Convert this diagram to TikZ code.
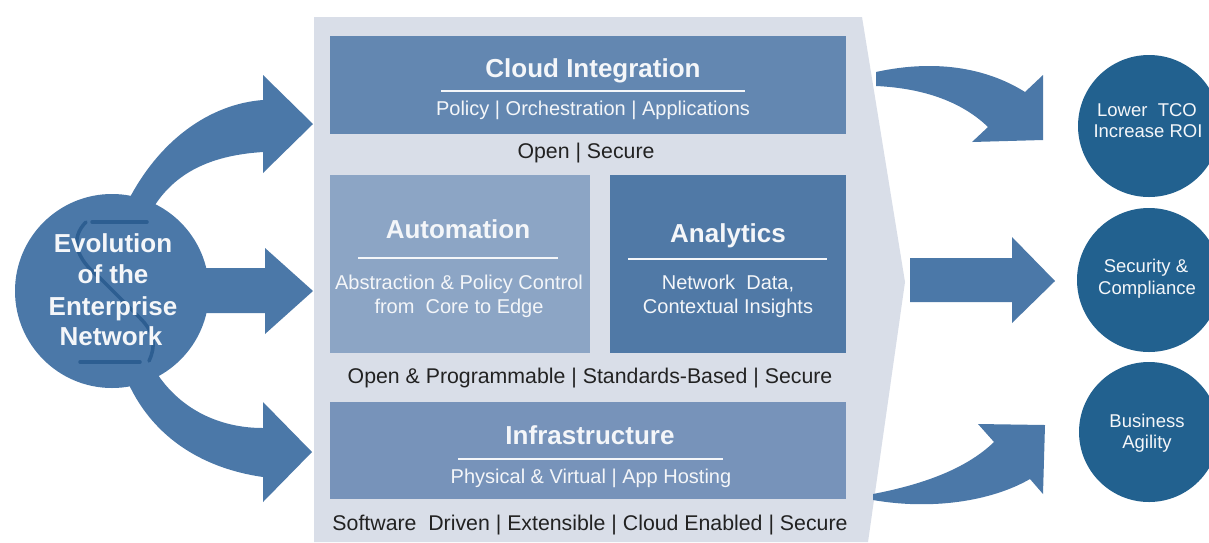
\documentclass[tikz,border=0pt]{standalone}
\usepackage{fontspec}
\setmainfont{Liberation Sans}
\definecolor{arrowc}{HTML}{4B78A8}
\definecolor{darkc}{HTML}{22618F}
\definecolor{panelc}{HTML}{D9DEE8}
\definecolor{cloudc}{HTML}{6387B1}
\definecolor{autoc}{HTML}{8CA5C5}
\definecolor{analc}{HTML}{5079A6}
\definecolor{infrac}{HTML}{7793BA}
\definecolor{sdeco}{HTML}{2D5E91}
\definecolor{txtc}{HTML}{222222}
\definecolor{boxtxt}{HTML}{F4F6F9}
\begin{document}
\begin{tikzpicture}[x=1pt,y=-1pt,
  title/.style={anchor=base, inner sep=0pt, text=boxtxt, font=\fontsize{26}{30}\selectfont\bfseries},
  sub/.style={anchor=base, inner sep=0pt, text=boxtxt, font=\fontsize{20}{24}\selectfont},
  lbl/.style={anchor=base, inner sep=0pt, text=txtc, font=\fontsize{21.3}{25}\selectfont},
  evotxt/.style={anchor=base, inner sep=0pt, text=boxtxt, font=\fontsize{26}{30}\selectfont\bfseries},
  res/.style={anchor=base, inner sep=0pt, text=boxtxt, font=\fontsize{18.5}{22}\selectfont},
  uline/.style={draw=boxtxt, line width=2.6pt},
  arr/.style={fill=arrowc},
  deco/.style={draw=sdeco, line width=3.5pt, line cap=round},
]
\useasboundingbox (0,0) rectangle (1209,542);
\fill[white] (0,0) rectangle (1209,542);

% panel
\fill[panelc] (314,17) -- (862,17) -- (905,282) -- (868,542) -- (314,542) -- cycle;

% boxes
\fill[cloudc] (330,36) rectangle (846,134);
\fill[autoc] (330,175) rectangle (590,353);
\fill[analc] (610,175) rectangle (846,353);
\fill[infrac] (330,402) rectangle (846,499);

% left arrows
\fill[arr] (126,205) .. controls (158,140) and (210,104) .. (263,100) -- (263,75) -- (313,124) -- (263,173) -- (263,152) .. controls (215,155) and (178,170) .. (155,205) -- cycle;
\fill[arr] (190,268) -- (265,268) -- (265,248) -- (313,291) -- (265,334) -- (265,313) -- (190,313) -- cycle;
\fill[arr] (158,375) .. controls (182,410) and (220,428) .. (263,428) -- (263,402) -- (312,452) -- (263,502) -- (263,477) .. controls (200,468) and (150,435) .. (126,378) -- cycle;

% right arrows
\fill[arr] (876,72) .. controls (940,58) and (990,70) .. (1025,92) -- (1043,75) -- (1043,140) -- (972,142) -- (988,127) .. controls (960,100) and (920,88) .. (876,86) -- cycle;
\fill[arr] (910,258) -- (1012,258) -- (1012,237) -- (1055,281) -- (1012,323) -- (1012,302) -- (910,302) -- cycle;
\fill[arr] (873,494) .. controls (920,485) and (965,470) .. (994,442) -- (978,424) -- (1045,425) -- (1043,494) -- (1030,479) .. controls (990,502) and (930,510) .. (873,500) -- cycle;

% circles
\node[circle, fill=arrowc, minimum size=194pt, inner sep=0pt] (evo) at (112,291) {};
\node[circle, fill=darkc, minimum size=142pt, inner sep=0pt] (tco) at (1149,126) {};
\node[circle, fill=darkc, minimum size=144pt, inner sep=0pt] (sec) at (1149,280) {};
\node[circle, fill=darkc, minimum size=140pt, inner sep=0pt] (agil) at (1149,432) {};

% S decoration
\draw[deco] (92,222) -- (147,222);
\draw[deco] (86,222) .. controls (70,238) and (75,258) .. (100,278) -- (140,318) .. controls (155,333) and (156,346) .. (149,361);
\draw[deco] (80,362) -- (140,362);

% left circle text
\node[evotxt] (e1) at (113,252) {Evolution};
\node[evotxt] (e2) at (113,283) {of the};
\node[evotxt] (e3) at (113,315) {Enterprise};
\node[evotxt] (e4) at (111,345) {Network};

% cloud integration
\node[title] (cloudt) at (593,77) {Cloud Integration};
\draw[uline] (441,91) -- (745,91);
\node[sub] (clouds) at (593,115) {Policy | Orchestration | Applications};
\node[lbl] (l1) at (586,158) {Open | Secure};

% automation
\node[title] (autot) at (458,238) {Automation};
\draw[uline] (358,258) -- (558,258);
\node[sub] (autos1) at (459,289) {Abstraction \& Policy Control};
\node[sub] (autos2) at (459,313) {from~~Core to Edge};

% analytics
\node[title] (analt) at (728,242) {Analytics};
\draw[uline] (628,259) -- (827,259);
\node[sub] (anals1) at (728,289) {Network~~Data,};
\node[sub] (anals2) at (728,313) {Contextual Insights};

\node[lbl] (l2) at (590,383) {Open \& Programmable | Standards-Based | Secure};

% infrastructure
\node[title] (infrat) at (590,444) {Infrastructure};
\draw[uline] (458,459) -- (723,459);
\node[sub] (infras) at (591,483) {Physical \& Virtual | App Hosting};
\node[lbl] (l3) at (590,530) {Software~~Driven | Extensible | Cloud Enabled | Secure};

% right circle texts
\node[res] (r1) at (1147,116) {Lower~~TCO};
\node[res] (r2) at (1148,137) {Increase ROI};
\node[res] (r3) at (1146,272) {Security \&};
\node[res] (r4) at (1147,294) {Compliance};
\node[res] (r5) at (1147,427) {Business};
\node[res] (r6) at (1147,448) {Agility};
\end{tikzpicture}
\end{document}
